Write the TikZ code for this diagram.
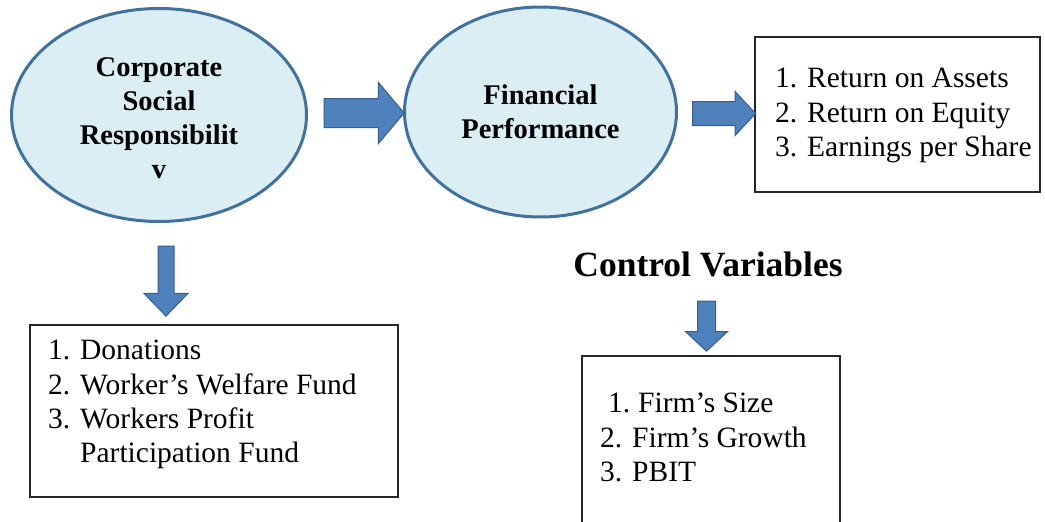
\documentclass[tikz,border=0pt]{standalone}
\usepackage{fontspec}
\setmainfont{Liberation Serif}
\usetikzlibrary{shapes.geometric, shapes.arrows}

\definecolor{ovalfill}{HTML}{DAEEF3}
\definecolor{ovalline}{HTML}{41719C}
\definecolor{arrowfill}{HTML}{4F81BD}
\definecolor{arrowline}{HTML}{385D8A}

\tikzset{
    oval/.style={ellipse, draw=ovalline, line width=3pt, fill=ovalfill, align=center, inner sep=0pt,
                 font=\fontsize{28.5}{34}\selectfont\bfseries},
    listbox/.style={draw=black!85, line width=1.3pt, inner sep=0pt},
    listtext/.style={align=left, inner sep=0pt, font=\fontsize{29.5}{34.4}\selectfont},
    blockarrow/.style={single arrow, draw=arrowline, fill=arrowfill, line width=1pt, inner xsep=0pt}
}
\newcommand{\num}[2]{\makebox[#1][l]{#2}}

\begin{document}
\begin{tikzpicture}[x=1pt, y=-1pt]
    \useasboundingbox (0,0) rectangle (1045,522);

    \node [oval, minimum width=295pt, minimum height=213pt] (csr) at (159,115)
          {\rule{0pt}{26pt}Corporate\\Social\\Responsibilit\\v};
    \node [oval, minimum width=272pt, minimum height=210pt] (finperf) at (540.5,112)
          {Financial\\Performance};

    \node [listbox, minimum width=285pt, minimum height=155pt] (fpbox) at (897.5,114.5) {};
    \node [listtext, anchor=north west] (fplist) at (775,68)
          {1. Return on Assets\\2. Return on Equity\\3. Earnings per Share};

    \node [listbox, minimum width=368pt, minimum height=172pt] (csrbox) at (214,411) {};
    \node [listtext, anchor=north west] (csrlist) at (48,340)
          {\num{32pt}{1.}Donations\\\num{32pt}{2.}Worker’s Welfare Fund\\\num{32pt}{3.}Workers Profit\\\num{32pt}{}Participation Fund};

    \node [font=\fontsize{35.5}{40}\selectfont\bfseries, inner sep=0pt, anchor=base] (ctrl) at (708,276)
          {Control Variables};
    \node [listbox, minimum width=258pt, minimum height=200pt] (ctrlbox) at (711,456) {};
    \node [listtext, anchor=north west] (ctrllist) at (600,393)
          {\hspace{8pt}\num{30pt}{1.}Firm’s Size\\\num{32pt}{2.}Firm’s Growth\\\num{32pt}{3.}PBIT};

    % block arrows
    \node [blockarrow, inner ysep=14pt, minimum height=80pt, single arrow head extend=16pt,
           single arrow tip angle=100] (csrarrow) at (358,113) {};
    \node [blockarrow, inner ysep=11.5pt, minimum height=63pt, single arrow head extend=10pt,
           single arrow tip angle=94] (fparrow) at (718.5,113.5) {};
    \node [blockarrow, rotate=-90, inner ysep=7.5pt, minimum height=70pt, single arrow head extend=14pt,
           single arrow tip angle=88] (downarrow) at (166,277) {};
    \node [blockarrow, rotate=-90, inner ysep=8.5pt, minimum height=50pt, single arrow head extend=12pt,
           single arrow tip angle=94] (ctrlarrow) at (706.5,322) {};

\end{tikzpicture}
\end{document}
